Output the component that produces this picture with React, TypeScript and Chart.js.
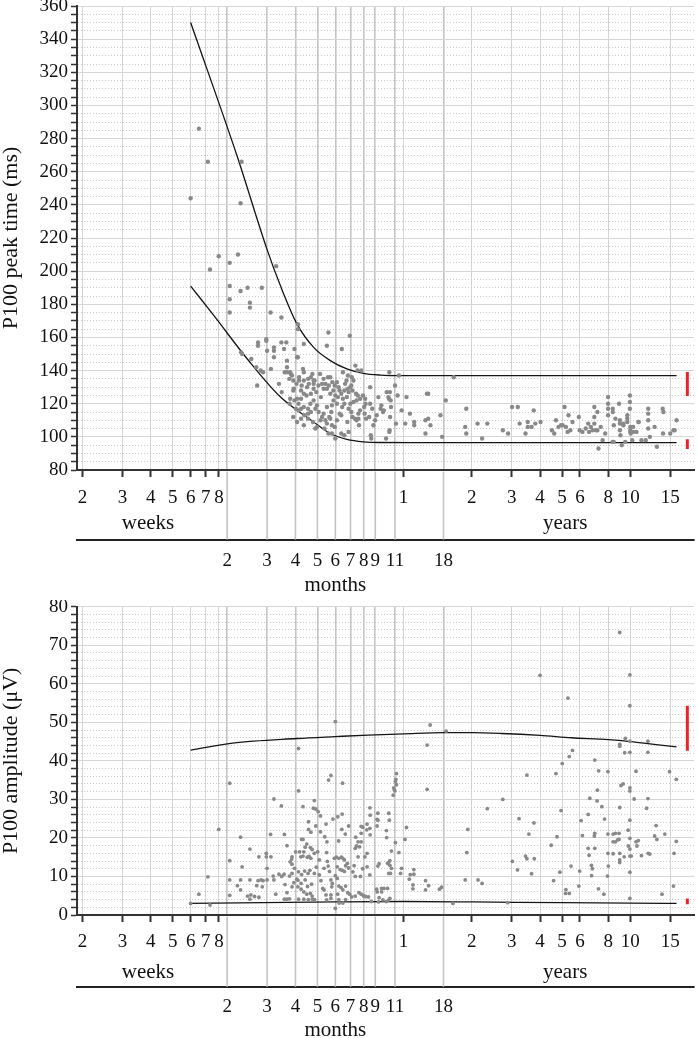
import { useEffect, useRef } from "react";
import { Chart, registerables } from "chart.js";

Chart.register(...registerables);
Chart.defaults.font.family = '"Liberation Serif", "Times New Roman", Times, serif';
Chart.defaults.color = "#111";

// ---------- age axis (years, logarithmic) ----------
const AGE_MIN = 0.03626;
const AGE_MAX = 19.1;
const WEEKS_PER_YEAR = 52.1786;
const weekTicks = [2, 3, 4, 5, 6, 7, 8];
const yearTicks = [1, 2, 3, 4, 5, 6, 8, 10, 15];
const monthTicks = [2, 3, 4, 5, 6, 7, 8, 9, 11, 18];
const weeksLabelAge = 0.0746;
const yearsLabelAge = 5.16;
const monthsLabelAge = 0.5;

// ---------- value axes ----------
const latencyTickLabels = [80, 100, 120, 140, 160, 180, 200, 220, 240, 260, 280, 300, 320, 340, 360];
const latencyMinorStep = 5;
const amplitudeTickLabels = [0, 10, 20, 30, 40, 50, 60, 70, 80];
const amplitudeMinorStep = 2;

// ---------- normative range bars (red) ----------
const normBarAge = 17.85;
const latencyUpperBar = [139.2, 124.7];
const latencyLowerBar = [98.5, 92.6];
const amplitudeUpperBar = [54.3, 42.6];
const amplitudeLowerBar = [4.3, 2.8];

// ---------- reference limit curves ----------
const latencyUpperAge = [0.115, 0.1848, 0.25, 0.2866, 0.339, 0.401, 0.475, 0.562, 0.665, 0.788, 1.0, 2.0, 5.0, 16.0];
const latencyUpper = [350, 269, 213, 191, 168, 154, 146, 141, 138.3, 137.3, 137, 137, 137, 137];
const latencyLowerAge = [0.115, 0.146, 0.2045, 0.2866, 0.401, 0.475, 0.562, 0.665, 0.788, 1.2, 16.0];
const latencyLower = [191, 173, 147, 124, 109, 102, 98.5, 97, 96.6, 96.5, 96.5];
const amplitudeUpperAge = [0.115, 0.176, 0.339, 0.5, 0.7, 1.0, 1.5, 2.0, 2.7, 4.0, 5.5, 8.0, 10.0, 13.0, 16.0];
const amplitudeUpper = [42.8, 44.6, 45.8, 46.3, 46.7, 47.0, 47.3, 47.3, 47.1, 46.6, 46.0, 45.5, 45.0, 44.2, 43.6];
const amplitudeLowerAge = [0.115, 0.5, 1.0, 2.0, 5.0, 10.0, 16.0];
const amplitudeLower = [3.0, 3.4, 3.5, 3.4, 3.2, 3.1, 3.0];

// ---------- P100 peak time (ms), [age in years, value] ----------
const latencyInfants: number[][] = [
  [0.115, 244], [0.125, 286], [0.137, 266], [0.14, 201], [0.153, 209], [0.171, 205], [0.171, 191], [0.171, 183],
  [0.171, 175], [0.186, 210], [0.191, 241], [0.193, 266], [0.191, 188], [0.205, 190], [0.21, 181], [0.21, 178],
  [0.237, 190], [0.274, 203], [0.259, 175], [0.289, 172], [0.192, 151], [0.194, 150], [0.213, 147], [0.224, 142],
  [0.234, 140], [0.24, 139], [0.226, 131], [0.228, 157], [0.228, 155], [0.248, 159], [0.248, 158], [0.25, 152],
  [0.268, 154], [0.268, 152], [0.268, 148], [0.26, 141], [0.289, 157], [0.297, 153], [0.304, 157], [0.33, 153],
  [0.363, 156], [0.342, 168], [0.342, 165], [0.466, 163], [0.459, 155], [0.579, 161], [0.534, 153], [0.306, 146],
  [0.306, 142], [0.299, 139], [0.306, 139], [0.316, 139], [0.322, 137], [0.313, 135], [0.318, 138], [0.339, 148],
  [0.342, 148], [0.36, 141], [0.363, 139], [0.346, 136], [0.346, 134], [0.363, 134], [0.355, 131], [0.379, 135],
  [0.396, 138], [0.401, 132], [0.401, 134], [0.405, 134], [0.421, 131], [0.437, 132], [0.444, 135], [0.464, 136],
  [0.475, 136], [0.485, 133], [0.497, 131], [0.508, 133], [0.517, 130], [0.54, 139], [0.56, 134], [0.568, 137],
  [0.591, 136], [0.601, 134], [0.613, 143], [0.626, 140], [0.65, 140], [0.588, 131], [0.582, 130], [0.568, 129],
  [0.548, 128], [0.531, 126], [0.522, 128], [0.5, 125], [0.475, 126], [0.459, 129], [0.444, 129], [0.432, 124],
  [0.412, 127], [0.401, 129], [0.39, 126], [0.375, 130], [0.373, 125], [0.363, 126], [0.353, 123], [0.339, 123],
  [0.328, 129], [0.326, 128], [0.316, 123], [0.33, 122], [0.29, 127], [0.282, 132], [0.314, 120], [0.344, 120],
  [0.363, 118], [0.344, 116], [0.379, 117], [0.388, 120], [0.401, 122], [0.415, 119], [0.408, 117], [0.422, 115],
  [0.39, 115], [0.365, 113], [0.379, 111], [0.363, 107], [0.398, 109], [0.408, 105], [0.43, 110], [0.452, 110],
  [0.459, 108], [0.475, 111], [0.483, 107], [0.497, 106], [0.47, 112], [0.444, 114], [0.459, 118], [0.483, 119],
  [0.491, 122], [0.508, 120], [0.522, 114], [0.531, 113], [0.536, 118], [0.548, 120], [0.562, 124], [0.572, 117],
  [0.588, 115], [0.582, 120], [0.601, 121], [0.617, 126], [0.62, 122], [0.611, 111], [0.62, 110], [0.632, 111],
  [0.636, 107], [0.643, 116], [0.67, 118], [0.673, 114], [0.683, 111], [0.68, 120], [0.712, 130], [0.717, 101],
  [0.72, 99], [0.705, 112], [0.749, 110], [0.736, 107], [0.761, 113], [0.774, 124], [0.792, 117], [0.798, 119],
  [0.812, 115], [0.842, 127], [0.857, 124], [0.862, 123], [0.865, 139], [0.87, 127], [0.877, 122], [0.88, 118],
  [0.818, 116], [0.837, 99], [0.868, 104], [0.865, 103], [0.872, 112], [0.917, 131], [0.941, 125], [0.954, 137],
  [0.926, 108], [0.98, 116], [0.531, 102], [0.548, 101], [0.572, 103], [0.5, 99], [0.483, 102], [0.448, 105],
  [0.466, 102], [0.326, 134], [0.337, 132], [0.353, 128], [0.382, 132], [0.39, 136], [0.428, 138], [0.452, 132],
  [0.468, 131], [0.49, 128], [0.513, 124], [0.54, 123], [0.552, 132], [0.572, 127], [0.595, 128], [0.628, 125],
  [0.643, 123], [0.662, 125], [0.677, 123], [0.712, 120], [0.727, 117], [0.632, 114], [0.595, 112], [0.565, 109],
  [0.508, 110], [0.48, 115], [0.437, 112], [0.415, 106], [0.379, 114], [0.353, 117], [0.335, 117], [0.326, 112],
  [0.339, 109], [0.353, 111],
];
const latencyChildren: number[][] = [
  [1.017, 108], [1.03, 124], [1.067, 114], [1.114, 109], [1.114, 107], [1.249, 102], [1.249, 110], [1.284, 111],
  [1.314, 107], [1.267, 126], [1.284, 126], [1.454, 113], [1.535, 122], [1.479, 100], [1.664, 136], [1.89, 117],
  [1.87, 106], [1.89, 102], [2.12, 108], [2.22, 99], [2.34, 108], [2.74, 104], [2.89, 102], [3.01, 118],
  [3.19, 118], [3.25, 108], [3.45, 102], [3.53, 109], [3.53, 106], [3.67, 106], [3.75, 116], [3.81, 108],
  [4.02, 109], [4.51, 104], [4.62, 102], [4.7, 110], [4.82, 106], [4.95, 107], [5.03, 107], [5.13, 118],
  [5.2, 106], [5.29, 103], [5.34, 113], [5.44, 104], [5.56, 109], [5.93, 112], [5.98, 104], [6.15, 103],
  [6.36, 105], [6.52, 108], [6.58, 103], [6.7, 106], [6.82, 104], [6.94, 118], [6.94, 112], [6.94, 108],
  [7.06, 104], [7.16, 115], [7.16, 104], [7.24, 93], [7.41, 106], [7.55, 98], [7.75, 102], [7.98, 124],
  [7.98, 120], [7.98, 117], [7.98, 113], [8.37, 117], [8.37, 115], [8.35, 97], [8.45, 97], [8.46, 107],
  [8.6, 111], [8.92, 120], [9.0, 110], [9.0, 108], [9.0, 104], [9.05, 101], [9.17, 95], [9.32, 108],
  [9.32, 107], [9.5, 97], [9.7, 109], [9.7, 111], [9.7, 113], [9.96, 125], [9.96, 121], [9.96, 117],
  [10.0, 106], [10.0, 103], [10.0, 104], [10.05, 102], [10.2, 98], [10.3, 106], [10.3, 103], [10.65, 103],
  [10.85, 109], [10.9, 109], [11.2, 98], [11.7, 98], [12.0, 114], [12.0, 117], [12.0, 110], [12.0, 105],
  [12.2, 100], [12.8, 106], [13.1, 94], [13.9, 117], [14.0, 115], [13.95, 102], [15.0, 102], [15.5, 104],
  [15.7, 104], [16.0, 110],
];

// ---------- P100 amplitude (µV), [age in years, value] ----------
const amplitudeInfants: number[][] = [
  [0.115, 3.0], [0.125, 5.4], [0.137, 9.9], [0.14, 2.6], [0.153, 22.2], [0.171, 34.2], [0.171, 14.1], [0.171, 9.1],
  [0.171, 5.1], [0.191, 20.2], [0.194, 12.5], [0.191, 9.1], [0.191, 6.5], [0.185, 7.6], [0.21, 17.1], [0.21, 9.1],
  [0.205, 4.9], [0.212, 5.2], [0.21, 4.1], [0.22, 4.8], [0.23, 4.6], [0.23, 15.1], [0.225, 7.6], [0.235, 9.1],
  [0.228, 8.9], [0.24, 8.9], [0.238, 7.3], [0.248, 16.0], [0.248, 15.1], [0.26, 15.1], [0.25, 12.1], [0.25, 9.1],
  [0.259, 20.9], [0.266, 10.1], [0.268, 9.1], [0.282, 10.6], [0.273, 5.4], [0.268, 30.1], [0.289, 28.3], [0.29, 10.0],
  [0.297, 10.6], [0.298, 20.9], [0.306, 18.0], [0.3, 7.9], [0.306, 5.8], [0.298, 4.1], [0.306, 4.1], [0.314, 4.2],
  [0.314, 10.1], [0.322, 10.8], [0.316, 13.8], [0.321, 14.5], [0.322, 15.1], [0.322, 7.3], [0.328, 8.4], [0.322, 13.2],
  [0.33, 12.1], [0.334, 16.4], [0.338, 9.3], [0.342, 7.3], [0.348, 16.4], [0.344, 4.1], [0.363, 4.1], [0.355, 19.6],
  [0.363, 16.4], [0.368, 17.6], [0.374, 18.4], [0.352, 15.1], [0.36, 15.3], [0.376, 15.0], [0.383, 15.2], [0.39, 14.7],
  [0.344, 11.2], [0.355, 10.5], [0.366, 11.4], [0.379, 10.8], [0.386, 11.6], [0.342, 9.0], [0.353, 8.2], [0.368, 9.1],
  [0.377, 7.4], [0.393, 8.0], [0.353, 6.7], [0.363, 6.0], [0.374, 5.4], [0.388, 5.6], [0.395, 4.9], [0.38, 4.0],
  [0.396, 4.1], [0.405, 4.0], [0.344, 43.2], [0.344, 32.2], [0.36, 28.1], [0.4, 27.7], [0.41, 27.5], [0.404, 29.7],
  [0.42, 26.8], [0.43, 25.7], [0.467, 35.0], [0.478, 36.2], [0.538, 34.2], [0.381, 24.2], [0.381, 22.2], [0.39, 21.5],
  [0.41, 23.1], [0.36, 19.6], [0.388, 17.5], [0.43, 21.6], [0.449, 20.3], [0.455, 23.6], [0.488, 24.9], [0.513, 25.5],
  [0.536, 26.2], [0.534, 22.2], [0.553, 21.0], [0.572, 23.1], [0.517, 19.2], [0.459, 19.0], [0.615, 20.2], [0.63, 19.0],
  [0.64, 17.7], [0.65, 19.0], [0.62, 17.9], [0.612, 17.3], [0.65, 21.2], [0.688, 22.1], [0.712, 25.9], [0.712, 20.8],
  [0.764, 24.8], [0.764, 23.1], [0.842, 20.1], [0.865, 24.6], [0.884, 16.6], [0.85, 13.4], [0.858, 13.6], [0.87, 14.1],
  [0.884, 12.1], [0.92, 18.8], [0.9, 31.1], [0.915, 32.2], [0.905, 33.0], [0.925, 35.2], [0.954, 16.2], [0.98, 12.1],
  [0.5, 50.2], [0.395, 17.0], [0.404, 16.0], [0.418, 16.4], [0.425, 14.3], [0.412, 12.4], [0.404, 10.8], [0.425, 10.4],
  [0.432, 8.9], [0.44, 6.9], [0.446, 6.5], [0.455, 5.2], [0.458, 3.9], [0.446, 12.1], [0.458, 16.2], [0.461, 13.9],
  [0.465, 12.7], [0.471, 11.3], [0.478, 9.1], [0.485, 8.2], [0.482, 7.3], [0.478, 5.2], [0.478, 4.3], [0.5, 1.7],
  [0.495, 14.7], [0.505, 15.0], [0.518, 14.7], [0.532, 15.0], [0.54, 14.7], [0.548, 14.3], [0.565, 13.4], [0.51, 12.5],
  [0.525, 11.8], [0.536, 11.6], [0.548, 11.3], [0.555, 12.8], [0.572, 12.2], [0.5, 10.2], [0.51, 9.5], [0.518, 7.5],
  [0.53, 7.1], [0.54, 6.5], [0.555, 7.5], [0.567, 5.8], [0.578, 5.4], [0.512, 5.4], [0.518, 4.0], [0.52, 3.1],
  [0.54, 3.1], [0.555, 4.0], [0.59, 4.7], [0.612, 4.9], [0.635, 5.8], [0.65, 5.4], [0.665, 5.0], [0.68, 4.8],
  [0.7, 4.7], [0.76, 6.7], [0.765, 6.0], [0.775, 3.4], [0.78, 4.5], [0.8, 6.0], [0.81, 3.9], [0.598, 11.2],
  [0.605, 12.8], [0.612, 10.0], [0.63, 15.1], [0.645, 10.0], [0.66, 12.0], [0.675, 15.1], [0.69, 12.5], [0.66, 22.8],
  [0.65, 23.0], [0.69, 23.6], [0.71, 27.8], [0.71, 22.5], [0.77, 26.4], [0.77, 24.6], [0.84, 21.9], [0.86, 26.4],
  [0.93, 36.7], [0.93, 33.8], [0.92, 34.6], [0.91, 32.5], [0.69, 16.0], [0.71, 10.4], [0.77, 12.7], [0.78, 13.3],
  [0.86, 10.8], [0.87, 12.9], [0.875, 10.8], [0.8, 6.9], [0.82, 6.9], [0.85, 6.9], [0.84, 3.5], [0.86, 3.9],
  [0.87, 4.3], [0.72, 3.5], [0.97, 10.8],
];
const amplitudeChildren: number[][] = [
  [1.06, 9.3], [1.11, 10.6], [1.1, 6.8], [1.03, 22.7], [1.014, 19.6], [1.07, 10.5], [1.11, 11.8], [1.1, 7.8],
  [1.25, 8.9], [1.25, 6.5], [1.29, 7.6], [1.27, 44.1], [1.27, 32.6], [1.31, 49.3], [1.44, 6.7], [1.47, 7.2],
  [1.54, 47.7], [1.65, 3.0], [1.87, 9.1], [1.9, 16.2], [1.92, 22.2], [2.13, 9.1], [2.22, 8.2], [2.34, 27.6],
  [2.74, 30.0], [2.88, 3.2], [3.02, 13.9], [3.18, 11.7], [3.23, 25.0], [3.45, 15.3], [3.5, 14.6], [3.5, 36.3],
  [3.57, 21.0], [3.67, 10.7], [3.76, 23.9], [3.77, 14.6], [4.0, 62.2], [4.48, 18.1], [4.59, 8.9], [4.7, 36.7],
  [4.75, 20.3], [4.89, 11.1], [4.95, 27.1], [5.01, 39.3], [5.2, 6.6], [5.18, 5.6], [5.38, 5.6], [5.31, 56.3],
  [5.38, 41.1], [5.48, 12.7], [5.56, 42.7], [5.93, 7.5], [5.98, 11.4], [6.07, 24.5], [6.15, 20.6], [6.52, 26.1],
  [6.52, 17.3], [6.58, 15.5], [6.63, 30.3], [6.74, 12.9], [6.75, 10.2], [6.8, 12.0], [6.94, 20.5], [6.97, 21.2],
  [6.97, 17.3], [6.97, 40.2], [7.14, 29.6], [7.16, 32.4], [7.24, 6.8], [7.25, 37.4], [7.49, 28.1], [7.65, 5.4],
  [7.7, 24.9], [7.93, 10.1], [7.97, 37.2], [7.97, 21.0], [7.97, 16.0], [8.0, 12.7], [8.4, 21.0], [8.4, 19.0],
  [8.4, 15.9], [8.6, 21.2], [8.6, 19.0], [8.8, 19.5], [8.92, 21.2], [8.92, 19.6], [8.98, 73.3], [8.98, 44.3],
  [8.98, 43.8], [8.98, 27.9], [8.98, 16.0], [8.98, 14.3], [8.98, 13.6], [9.1, 33.6], [9.3, 34.0], [9.45, 42.1],
  [9.5, 45.8], [9.4, 15.1], [9.78, 22.0], [9.8, 17.9], [9.96, 62.3], [9.96, 54.3], [9.96, 45.1], [9.96, 42.2],
  [9.96, 33.0], [9.96, 32.2], [9.96, 24.6], [9.96, 19.9], [9.96, 17.1], [9.96, 15.3], [9.96, 11.1], [9.96, 4.3],
  [10.1, 15.3], [10.4, 30.1], [10.6, 37.3], [10.6, 19.0], [10.85, 19.3], [10.7, 17.9], [11.2, 15.4], [11.8, 27.7],
  [11.96, 45.1], [11.96, 42.2], [11.96, 30.2], [12.0, 16.0], [12.2, 15.8], [12.8, 20.5], [13.0, 23.2], [13.1, 19.6],
  [13.8, 5.4], [14.2, 21.0], [14.9, 37.2], [15.5, 7.5], [15.6, 16.0], [15.96, 35.2], [15.96, 19.1],
];

// ---------- helpers ----------
const toXY = (pairs: number[][]) => pairs.map(([x, y]) => ({ x, y }));
const zipXY = (xs: number[], ys: number[]) => xs.map((x, i) => ({ x, y: ys[i] }));

const ageAxisExtras = {
  id: "ageAxisExtras",
  afterDraw(chart: any, _args: any, opts: any) {
    const { ctx, chartArea, scales } = chart;
    const x = scales.x;
    const xm = scales.xm;
    ctx.save();
    ctx.strokeStyle = "#c4c4c4";
    ctx.lineWidth = 1.6;
    for (const m of monthTicks) {
      const px = xm.getPixelForValue(m / 12);
      ctx.beginPath();
      ctx.moveTo(px, chartArea.bottom + 1.5);
      ctx.lineTo(px, xm.top);
      ctx.stroke();
    }
    ctx.fillStyle = "#111";
    ctx.font = '21px "Liberation Serif", "Times New Roman", serif';
    ctx.textAlign = "center";
    ctx.textBaseline = "middle";
    ctx.fillText("weeks", x.getPixelForValue(weeksLabelAge), x.top + opts.unitOffset);
    ctx.fillText("years", x.getPixelForValue(yearsLabelAge), x.top + opts.unitOffset);
    ctx.fillText("months", xm.getPixelForValue(monthsLabelAge), xm.top + opts.monthsOffset);
    ctx.restore();
  },
};

type Cfg = {
  points: { x: number; y: number }[];
  upper: { x: number; y: number }[];
  lower: { x: number; y: number }[];
  bars: { x: number; y: number }[][];
  yMin: number;
  yMax: number;
  yStep: number;
  yLabels: number[];
  title: string;
  padTop: number;
  xHeight: number;
  xmHeight: number;
  xPad: number;
  xmPad: number;
  unitOffset: number;
  monthsOffset: number;
  pointRadius: number;
};

function buildConfig(c: Cfg): any {
  const isMajor = (v: number) => c.yLabels.includes(v);
  return {
    type: "scatter",
    data: {
      datasets: [
        {
          data: c.points,
          pointRadius: c.pointRadius,
          pointBackgroundColor: "#898989",
          pointBorderWidth: 0,
          showLine: false,
        },
        {
          data: c.upper,
          showLine: true,
          pointRadius: 0,
          borderColor: "#151515",
          borderWidth: 1.3,
          cubicInterpolationMode: "monotone",
          fill: false,
        },
        {
          data: c.lower,
          showLine: true,
          pointRadius: 0,
          borderColor: "#151515",
          borderWidth: 1.3,
          cubicInterpolationMode: "monotone",
          fill: false,
        },
        ...c.bars.map((b) => ({
          data: b,
          showLine: true,
          pointRadius: 0,
          borderColor: "#e8232b",
          borderWidth: 3,
          borderCapStyle: "butt",
          fill: false,
        })),
      ],
    },
    options: {
      animation: false,
      responsive: false,
      devicePixelRatio: 1,
      events: [],
      layout: { padding: { top: c.padTop, right: 1, bottom: 0, left: 0 } },
      plugins: {
        legend: { display: false },
        tooltip: { enabled: false },
        ageAxisExtras: { unitOffset: c.unitOffset, monthsOffset: c.monthsOffset },
      },
      scales: {
        x: {
          type: "logarithmic",
          position: "bottom",
          weight: 1,
          min: AGE_MIN,
          max: AGE_MAX,
          afterBuildTicks: (s: any) => {
            s.ticks = [
              ...weekTicks.map((w) => ({ value: w / WEEKS_PER_YEAR })),
              ...yearTicks.map((y) => ({ value: y })),
            ];
          },
          afterFit: (s: any) => {
            s.height = c.xHeight;
            s.paddingLeft = 0;
            s.paddingRight = 0;
          },
          ticks: {
            autoSkip: false,
            maxRotation: 0,
            minRotation: 0,
            padding: c.xPad,
            color: "#111",
            font: { size: 19 },
            callback: (_v: any, i: number) =>
              i < weekTicks.length ? String(weekTicks[i]) : String(yearTicks[i - weekTicks.length]),
          },
          grid: {
            color: "#d4d4d4",
            lineWidth: 1,
            tickColor: "#333",
            tickLength: 7,
            tickWidth: 2,
          },
          border: { display: true, color: "#333", width: 2 },
        },
        xm: {
          type: "logarithmic",
          axis: "x",
          position: "bottom",
          weight: 2,
          min: AGE_MIN,
          max: AGE_MAX,
          afterBuildTicks: (s: any) => {
            s.ticks = monthTicks.map((m) => ({ value: m / 12 }));
          },
          afterFit: (s: any) => {
            s.height = c.xmHeight;
            s.paddingLeft = 0;
            s.paddingRight = 0;
          },
          ticks: {
            autoSkip: false,
            maxRotation: 0,
            minRotation: 0,
            padding: c.xmPad,
            color: "#111",
            font: { size: 19 },
            callback: (_v: any, i: number) => String(monthTicks[i]),
          },
          grid: {
            color: "#c4c4c4",
            lineWidth: 1.6,
            drawTicks: false,
            drawOnChartArea: true,
          },
          border: { display: true, color: "#222", width: 2 },
        },
        y: {
          type: "linear",
          position: "left",
          min: c.yMin,
          max: c.yMax,
          afterBuildTicks: (s: any) => {
            const t = [];
            for (let v = c.yMin; v <= c.yMax + 1e-9; v += c.yStep) t.push({ value: v });
            s.ticks = t;
          },
          afterFit: (s: any) => {
            s.width = 77;
            s.paddingTop = 0;
            s.paddingBottom = 0;
          },
          title: {
            display: true,
            text: c.title,
            color: "#111",
            font: { size: 22, lineHeight: 1 },
            padding: { top: 0, bottom: 0 },
          },
          ticks: {
            autoSkip: false,
            padding: 3,
            color: "#111",
            font: { size: 19 },
            callback: (v: number) => (isMajor(v) ? String(v) : ""),
          },
          grid: {
            color: (ctx: any) => (ctx.tick && isMajor(ctx.tick.value) ? "#d6d6d6" : "#c9c9c9"),
            lineWidth: 1,
            tickColor: "#333",
            tickLength: 6,
            tickWidth: 1.5,
          },
          border: {
            display: true,
            color: "#333",
            width: 2,
            dash: (ctx: any) => (ctx.tick && !isMajor(ctx.tick.value) ? [1, 2] : []),
          },
        },
      },
    },
    plugins: [ageAxisExtras],
  };
}

export default function App() {
  const topRef = useRef<HTMLCanvasElement>(null);
  const botRef = useRef<HTMLCanvasElement>(null);

  useEffect(() => {
    const top = new Chart(
      topRef.current as HTMLCanvasElement,
      buildConfig({
        points: toXY([...latencyInfants, ...latencyChildren]),
        upper: zipXY(latencyUpperAge, latencyUpper),
        lower: zipXY(latencyLowerAge, latencyLower),
        bars: [
          latencyUpperBar.map((y) => ({ x: normBarAge, y })),
          latencyLowerBar.map((y) => ({ x: normBarAge, y })),
        ],
        yMin: 80,
        yMax: 360,
        yStep: latencyMinorStep,
        yLabels: latencyTickLabels,
        title: "P100 peak time (ms)",
        padTop: 6,
        xHeight: 69.5,
        xmHeight: 60.5,
        xPad: 9.6,
        xmPad: 10.3,
        unitOffset: 53,
        monthsOffset: 46,
        pointRadius: 2.2,
      })
    );
    const bottom = new Chart(
      botRef.current as HTMLCanvasElement,
      buildConfig({
        points: toXY([...amplitudeInfants, ...amplitudeChildren]),
        upper: zipXY(amplitudeUpperAge, amplitudeUpper),
        lower: zipXY(amplitudeLowerAge, amplitudeLower),
        bars: [
          amplitudeUpperBar.map((y) => ({ x: normBarAge, y })),
          amplitudeLowerBar.map((y) => ({ x: normBarAge, y })),
        ],
        yMin: 0,
        yMax: 80,
        yStep: amplitudeMinorStep,
        yLabels: amplitudeTickLabels,
        title: "P100 amplitude (μV)",
        padTop: 6.7,
        xHeight: 71.7,
        xmHeight: 51.3,
        xPad: 8.6,
        xmPad: 8.9,
        unitOffset: 57,
        monthsOffset: 43.5,
        pointRadius: 1.9,
      })
    );
    return () => {
      top.destroy();
      bottom.destroy();
    };
  }, []);

  return (
    <div style={{ position: "absolute", left: 0, top: 0, width: 698, height: 1038, background: "#fff" }}>
      <canvas ref={topRef} width={698} height={600} style={{ position: "absolute", left: 0, top: 0 }} />
      <canvas ref={botRef} width={698} height={438} style={{ position: "absolute", left: 0, top: 600 }} />
    </div>
  );
}
